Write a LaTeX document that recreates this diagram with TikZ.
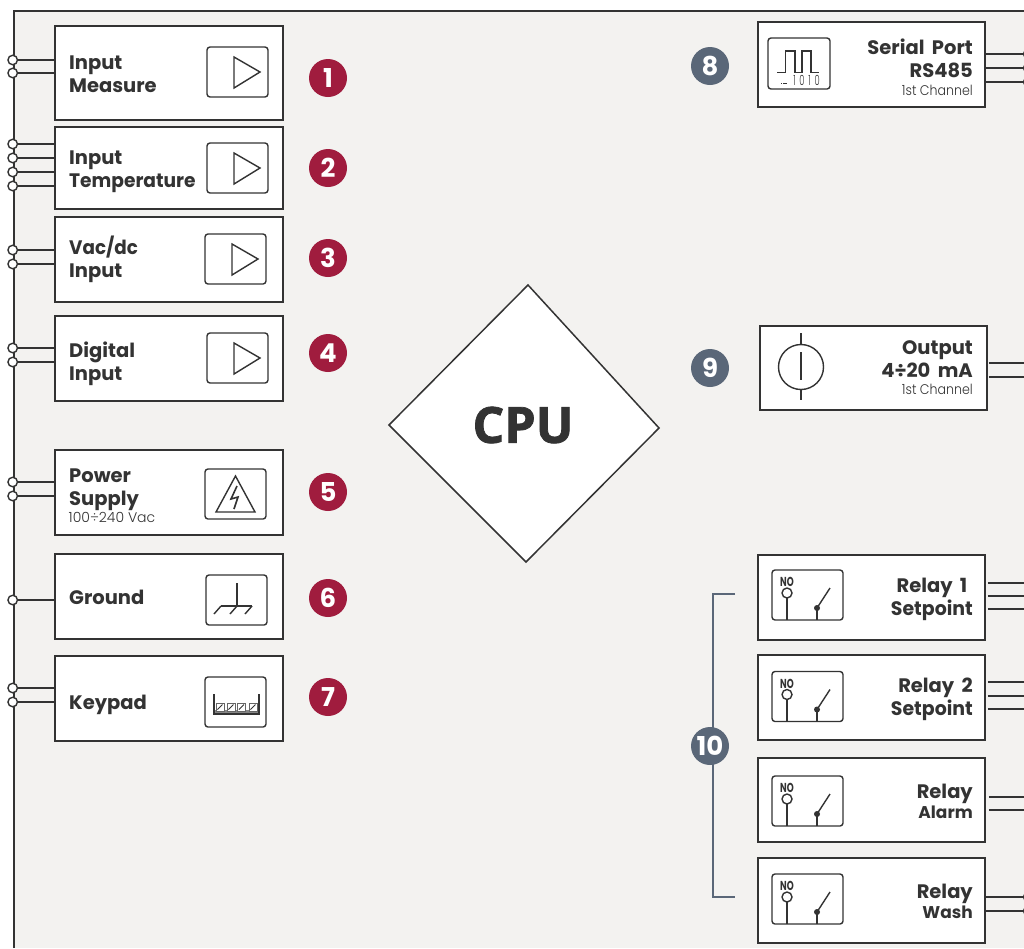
\documentclass[tikz,border=0pt]{standalone}
\usepackage{fontspec}
\setmainfont{Poppins}
\newfontfamily\cpufont[BoldFeatures={FakeBold=1.5}]{Open Sans}
\newfontfamily\lightfont{Poppins Light}
\usetikzlibrary{arrows.meta,positioning,shapes.geometric}
\definecolor{panelbg}{HTML}{F3F2F0}
\definecolor{inkdark}{HTML}{333333}
\definecolor{badgered}{HTML}{A01C3E}
\definecolor{badgegrey}{HTML}{5A6778}
\tikzset{
  blockbox/.style={draw=inkdark,line width=1.7pt,fill=white,minimum width=228,minimum height=85,inner sep=0pt},
  iconbox/.style={draw=inkdark,line width=1.4pt,rounded corners=3pt},
  iconline/.style={draw=inkdark,line width=1.4pt},
  wire/.style={draw=inkdark,line width=1.6pt},
  terminal/.style={circle,draw=inkdark,line width=1.4pt,fill=white,minimum size=9.5,inner sep=0pt},
  title/.style={font=\fontsize{19.5}{23}\selectfont\bfseries,text=inkdark,inner sep=0pt,align=left,anchor=west},
  titler/.style={title,align=right,anchor=east},
  subtitle/.style={title,anchor=east,font=\fontsize{17}{21}\selectfont\bfseries},
  small/.style={font=\fontsize{14}{16}\lightfont,text=inkdark,inner sep=0pt},
  badge/.style={circle,minimum size=38,inner sep=0pt,text=white,font=\fontsize{26}{30}\selectfont\bfseries},
}
\begin{document}
\begin{tikzpicture}[x=1pt,y=-1pt]
\clip (0,0) rectangle (1024,948);
\fill[white] (0,0) rectangle (1024,948);
\fill[panelbg] (14,11) rectangle (1024,948);
\draw[wire,line width=1.6pt] (14,948) -- (14,11) -- (1024,11);

% left column
\node[blockbox,minimum height=94] (input) at (169,73) {};
\node[blockbox,minimum height=82] (temp) at (169,168) {};
\node[blockbox] (vac) at (169,259.5) {};
\node[blockbox] (digital) at (169,358.5) {};
\node[blockbox] (power) at (169,492.5) {};
\node[blockbox] (ground) at (169,596.5) {};
\node[blockbox] (keypad) at (169,698.5) {};

\foreach \name/\y/\blk in {a/60/input,b/73/input,c/144/temp,d/158/temp,e/172/temp,f/186/temp,
  g/250/vac,h/264/vac,i/348/digital,j/362/digital,k/482/power,l/496/power,m/600/ground,n/688/keypad,o/702/keypad}{
  \node[terminal] (term\name) at (12.7,\y) {};
  \draw[wire] (term\name) -- (term\name -| \blk.west);
}

\node[title] (inputtxt) at (69,74.5) {Input\\Measure};
\node[title] (temptxt) at (69,171.5) {Input\\\scalebox{0.955}[1]{Temperature}};
\node[title] (vactxt) at (69,259.5) {\scalebox{0.94}[1]{Vac/dc}\\Input};
\node[title] (digitaltxt) at (69,363.5) {Digital\\Input};
\node[title] (powertxt) at (69,489.5) {Power\\Supply};
\node[small,anchor=west] (powersub) at (68.5,517) {100÷240 Vac};
\node[title] (groundtxt) at (69,597) {Ground};
\node[title] (keypadtxt) at (69,705) {Keypad};

% amplifier icons
\foreach \x/\y in {207/47,207/143,205/234,207/333}{
  \draw[iconbox] (\x,\y) rectangle +(61,50);
  \draw[iconline,line join=miter] (\x+27,\y+10) -- (\x+27,\y+41) -- (\x+53,\y+25) -- cycle;
}
% warning icon
\draw[iconbox] (205,469) rectangle (266,519);
\draw[iconline,line join=miter] (235.5,476) -- (216,512) -- (255,512) -- cycle;
\draw[iconline,line width=1.6pt] (237,486) -- (231,499) -- (238,497) -- (234,509);
% ground icon
\draw[iconbox] (206,575) rectangle (267,625);
\draw[iconline] (237,583) -- (237,606);
\draw[iconline] (221,606) -- (252,606);
\foreach \x in {221,237,252}{\draw[iconline] (\x,606) -- (\x-7,614);}
% keypad icon
\draw[iconbox] (205,677) rectangle (266,727);
\fill[inkdark!60] (214,710) rectangle (259,714);
\draw[iconline] (214,694) -- (214,714) -- (259,714) -- (259,694);
\foreach \x in {216,227,237.5,249}{
  \draw[inkdark!75,line width=1pt,fill=white] (\x,703) rectangle +(8,8);
  \draw[inkdark,line width=1pt] (\x+1.5,709.5) -- (\x+6.5,704.5);
}

\foreach \y/\num in {78/1,168/2,258/3,353/4,492/5,598/6,697/7}{
  \node[badge,fill=badgered] (badge\num) at (328,\y) {\num};
}

% cpu
\coordinate (cputop) at (528,285);
\coordinate (cpuright) at (659,428);
\coordinate (cpubottom) at (526,562);
\coordinate (cpuleft) at (389,425);
\draw[inkdark,line width=1.5pt,fill=white] (cputop) -- (cpuright) -- (cpubottom) -- (cpuleft) -- cycle;
\node[font=\fontsize{50}{60}\cpufont\bfseries,text=inkdark,inner sep=0pt] (cpu) at (523,425) {CPU};

% right column
\node[blockbox,minimum width=227] (serial) at (871.5,64.5) {};
\node[blockbox,minimum width=227,minimum height=84] (output) at (873.5,368) {};
\node[blockbox,minimum width=227] (relayone) at (871.5,597.5) {};
\node[blockbox,minimum width=227] (relaytwo) at (871.5,697.5) {};
\node[blockbox,minimum width=227,minimum height=84] (relayalarm) at (871.5,800) {};
\node[blockbox,minimum width=227] (relaywash) at (871.5,900.5) {};

\foreach \name/\y/\blk in {sa/54/serial,sb/68/serial,sc/82/serial,wa/897/relaywash,wb/911/relaywash}{
  \node[terminal,minimum size=7,fill=inkdark] (term\name) at (1027,\y) {};
  \draw[wire] (\blk.east |- term\name) -- (term\name);
}
\foreach \name/\y/\blk/\gap in {oa/363/output/1,ob/377/output/1,ra/583/relayone/2,rb/596/relayone/2,rc/609/relayone/2,
  rd/682/relaytwo/2,re/696/relaytwo/2,rf/709/relaytwo/2,aa/797/relayalarm/3,ab/810/relayalarm/3}{
  \coordinate (end\name) at (1024,\y);
  \draw[wire] ([xshift=\gap pt]\blk.east |- end\name) -- (end\name);
}

\node[titler] (serialtxt) at (973,58) {Serial\ \,Port\\RS485};
\node[small,anchor=east] (serialsub) at (973,90) {\scalebox{0.9}[1]{1st Channel}};
\node[titler] (outputtxt) at (973,359) {Output\\4÷20\ \,mA};
\node[small,anchor=east] (outputsub) at (973,389) {\scalebox{0.9}[1]{1st Channel}};
\node[titler] (relayonetxt) at (973,599) {Relay\ \,1\phantom{.}\\\scalebox{0.97}[1]{Setpoint}};
\node[titler] (relaytwotxt) at (973,699) {Relay\ \,2\\\scalebox{0.97}[1]{Setpoint}};
\node[titler] (alarmtxt) at (973,794) {Relay};
\node[subtitle] (alarmsub) at (973,812) {Alarm};
\node[titler] (washtxt) at (973,894) {Relay};
\node[subtitle] (washsub) at (973,912) {Wash};

% serial icon
\draw[iconbox] (768,38) rectangle (830,89);
\draw[iconline] (777,72.5) -- (785.5,72.5) -- (785.5,51) -- (795,51) -- (795,72.5) -- (802,72.5) -- (802,51) -- (811,51) -- (811,72.5) -- (819,72.5);
\fill[inkdark] (783,82.5) rectangle (787,84);
\fill[inkdark] (780.5,82.5) rectangle (781.5,84);
\node[font=\fontsize{14}{16}\lightfont,text=inkdark,inner sep=0pt] (serialbits) at (806.5,80) {\scalebox{0.6}[1]{1\ \,0\ \,1\ \,0}};
% current source icon
\node[circle,draw=inkdark,line width=1.4pt,minimum size=45,inner sep=0pt] (source) at (801,367) {};
\draw[iconline] (801,333) -- (source.north);
\draw[iconline] (801,352) -- (801,380);
\draw[iconline] (source.south) -- (801,400);
% relay icons
\foreach \y in {570,671.5,776,874}{
  \draw[iconbox] (772,\y) rectangle +(71,50);
  \node[font=\fontsize{13}{15}\selectfont\bfseries,text=inkdark,inner sep=0pt] at (787,\y+12) {\scalebox{0.68}[1]{NO}};
  \draw[iconline] (787,\y+28) -- (787,\y+50);
  \draw[iconline] (787,\y+23) circle (5);
  \draw[iconline] (817,\y+38) -- (817,\y+50);
  \draw[iconline] (817,\y+38) -- (830,\y+18);
  \fill[inkdark] (817,\y+38) circle (3);
}

% badges on the right
\node[badge,fill=badgegrey] (badge8) at (710,66) {8};
\node[badge,fill=badgegrey] (badge9) at (710,368) {9};
\coordinate (brackettop) at (735,594);
\coordinate (bracketbottom) at (735,897);
\draw[badgegrey,line width=2.8pt] (brackettop) -- (713,594) -- (713,897) -- (bracketbottom);
\node[badge,fill=badgegrey] (badge10) at (710,746) {10};
\end{tikzpicture}
\end{document}
